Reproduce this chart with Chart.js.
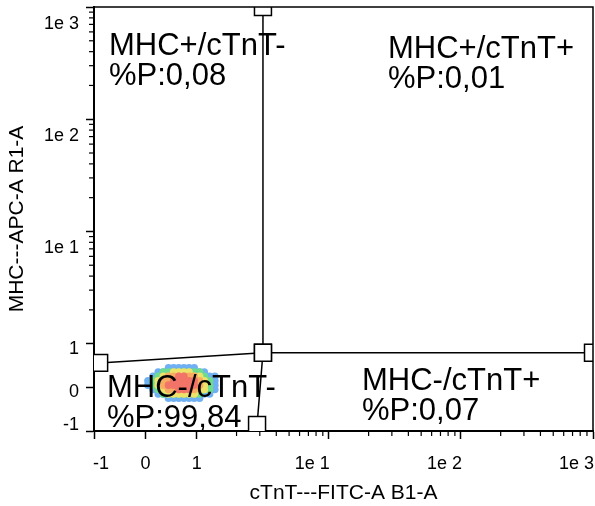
<!DOCTYPE html>
<html>
<head>
<meta charset="utf-8">
<script src="https://cdn.jsdelivr.net/npm/chart.js@4/dist/chart.umd.min.js"></script>
<style>
  html, body { margin: 0; padding: 0; background: #fff; }
</style>
</head>
<body>
<canvas id="myChart" width="595" height="506"></canvas>
<script>
// biexponential-ish display: linear from -1 to 1, then K units per decade
const K = 2.57
function toT(v) { return v <= 1 ? v : 1 + K * Math.log10(v) }

//-------------data
const tickValues = [-1, 0, 1, 10, 100, 1000]
const tickLabels = ['-1', '0', '1', '1e 1', '1e 2', '1e 3']
const minorValues = [2, 3, 4, 5, 6, 7, 8, 9, 20, 30, 40, 50, 60, 70, 80, 90, 200, 300, 400, 500, 600, 700, 800, 900]
const xTitle = 'cTnT---FITC-A B1-A'
const yTitle = 'MHC---APC-A R1-A'

const quadNames = ['MHC+/cTnT-', 'MHC+/cTnT+', 'MHC-/cTnT-', 'MHC-/cTnT+']
const quadPercents = ['%P:0,08', '%P:0,01', '%P:99,84', '%P:0,07']

// quadrant gate vertices (top, centre, bottom) and (left, centre, right)
const gateV = [{x: 3.17, y: 1000}, {x: 3.17, y: 0.79}, {x: 2.86, y: -0.86}]
const gateH = [{x: -0.9, y: 0.56}, {x: 3.17, y: 0.79}, {x: 1000, y: 0.79}]

// density cells of the single population (level 0 = empty, 5 = densest)
const densityX = [0.05, 0.15, 0.25, 0.35, 0.45, 0.55, 0.65, 0.75, 0.85, 0.95, 1.05, 1.14, 1.25, 1.37, 1.5]
const densityY = [0.45, 0.35, 0.25, 0.15, 0.05, -0.05, -0.15, -0.25]
const densityLevels = [
  [0, 0, 0, 0, 1, 1, 1, 1, 1, 1, 0, 0, 0, 0, 0],
  [0, 0, 1, 2, 2, 3, 3, 3, 3, 2, 2, 1, 0, 0, 0],
  [0, 1, 2, 3, 4, 4, 5, 5, 4, 4, 3, 2, 1, 1, 0],
  [1, 2, 3, 4, 4, 5, 5, 5, 5, 5, 4, 3, 2, 1, 0],
  [1, 2, 3, 4, 5, 5, 5, 5, 5, 5, 4, 3, 2, 1, 0],
  [0, 1, 2, 3, 4, 4, 5, 5, 5, 4, 3, 3, 2, 1, 0],
  [0, 0, 1, 2, 3, 3, 3, 3, 3, 3, 2, 1, 1, 0, 0],
  [0, 0, 0, 0, 1, 1, 1, 1, 1, 1, 1, 0, 0, 0, 0]
]
const levelColors = ['#6fb0f2', '#6edc8c', '#eee36a', '#f6ad62', '#f27468']

const FONT = '"Liberation Sans", Arial, sans-serif'
Chart.defaults.font.family = FONT
Chart.defaults.color = '#000'

//-------------datasets
const densitySets = levelColors.map((col, i) => {
  const pts = []
  densityLevels.forEach((row, r) => row.forEach((lv, c) => {
    if (lv >= i + 1) pts.push({x: toT(densityX[c]), y: toT(densityY[r])})
  }))
  return {
    data: pts,
    showLine: false,
    pointRadius: 3.8,
    pointBackgroundColor: col,
    pointBorderWidth: 0,
    pointHoverRadius: 0
  }
}).reverse()   // first dataset is drawn on top

function gateSet(pts) {
  return {
    data: pts.map(p => ({x: toT(p.x), y: toT(p.y)})),
    showLine: true,
    borderColor: '#000',
    borderWidth: 1.5,
    pointStyle: 'rect',
    pointRadius: 12,
    pointBackgroundColor: '#fff',
    pointBorderColor: '#000',
    pointBorderWidth: 1.5,
    clip: 0
  }
}

//-------------ticks, labels, frame and quadrant texts
const plotDeco = {
  id: 'plotDeco',
  afterDraw(chart) {
    const {ctx, chartArea: a} = chart
    const x = chart.scales.x, y = chart.scales.y
    ctx.save()
    ctx.strokeStyle = '#000'
    ctx.lineWidth = 1.5
    ctx.beginPath()
    ctx.moveTo(a.left, a.top)
    ctx.lineTo(a.right, a.top)
    ctx.lineTo(a.right, a.bottom)
    ctx.stroke()

    ctx.lineWidth = 1.2
    minorValues.forEach(v => {
      const px = x.getPixelForValue(toT(v))
      ctx.beginPath(); ctx.moveTo(px, a.bottom); ctx.lineTo(px, a.bottom + 5); ctx.stroke()
      const py = y.getPixelForValue(toT(v))
      ctx.beginPath(); ctx.moveTo(a.left, py); ctx.lineTo(a.left - 5, py); ctx.stroke()
    })

    ctx.fillStyle = '#000'
    ctx.font = '18px ' + FONT
    ctx.textBaseline = 'middle'
    tickValues.forEach((v, i) => {
      const lbl = tickLabels[i]
      const w = ctx.measureText(lbl).width
      const px = x.getPixelForValue(toT(v))
      const lx = v > 1 ? px - w + 1 : Math.max(px - w / 2, a.left - 1)
      ctx.textAlign = 'left'
      ctx.fillText(lbl, lx, a.bottom + 33)
      const py = y.getPixelForValue(toT(v))
      const ly = v > 1 ? py + 17 : Math.min(py + 5, a.bottom - 6)
      ctx.textAlign = 'right'
      ctx.fillText(lbl, a.left - 15, ly)
    })

    // quadrant names, anchored to the plot corners
    const spots = [
      [a.left + 15, a.top + 48],
      [a.left + 294, a.top + 51],
      [a.left + 13, a.bottom - 34],
      [a.left + 268, a.bottom - 41]
    ]
    ctx.font = '31px ' + FONT
    ctx.textAlign = 'left'
    ctx.textBaseline = 'alphabetic'
    quadNames.forEach((n, i) => {
      ctx.fillText(n, spots[i][0], spots[i][1])
      ctx.fillText(quadPercents[i], spots[i][0], spots[i][1] + 30)
    })
    ctx.restore()
  }
}

const ctx = document.getElementById('myChart').getContext('2d')
const axisFont = {family: FONT, size: 21}
const chart = new Chart(ctx, {
  type: 'scatter',
  data: {
    datasets: [gateSet(gateV), gateSet(gateH)].concat(densitySets)
  },
  options: {
    responsive: false,
    animation: false,
    events: [],
    layout: {autoPadding: false, padding: {top: 7, right: 2, left: 0, bottom: 0}},
    plugins: {legend: {display: false}, tooltip: {enabled: false}},
    scales: {
      x: {
        type: 'linear',
        min: toT(-1),
        max: toT(1000),
        afterBuildTicks: s => { s.ticks = tickValues.map(v => ({value: toT(v)})) },
        ticks: {display: false},
        grid: {drawOnChartArea: false, drawTicks: true, tickLength: 8, tickColor: '#000', tickWidth: 1.5},
        border: {display: true, color: '#000', width: 2},
        title: {display: true, text: xTitle, color: '#000', font: axisFont, padding: {top: 41.4, bottom: 0.4}}
      },
      y: {
        type: 'linear',
        min: toT(-1),
        max: toT(1000),
        afterBuildTicks: s => { s.ticks = tickValues.map(v => ({value: toT(v)})) },
        ticks: {display: false},
        grid: {drawOnChartArea: false, drawTicks: true, tickLength: 8, tickColor: '#000', tickWidth: 1.5},
        border: {display: true, color: '#000', width: 2},
        title: {display: true, text: yTitle, color: '#000', font: axisFont, padding: {top: 5, bottom: 55.8}}
      }
    }
  },
  plugins: [plotDeco]
})
</script>
</body>
</html>
